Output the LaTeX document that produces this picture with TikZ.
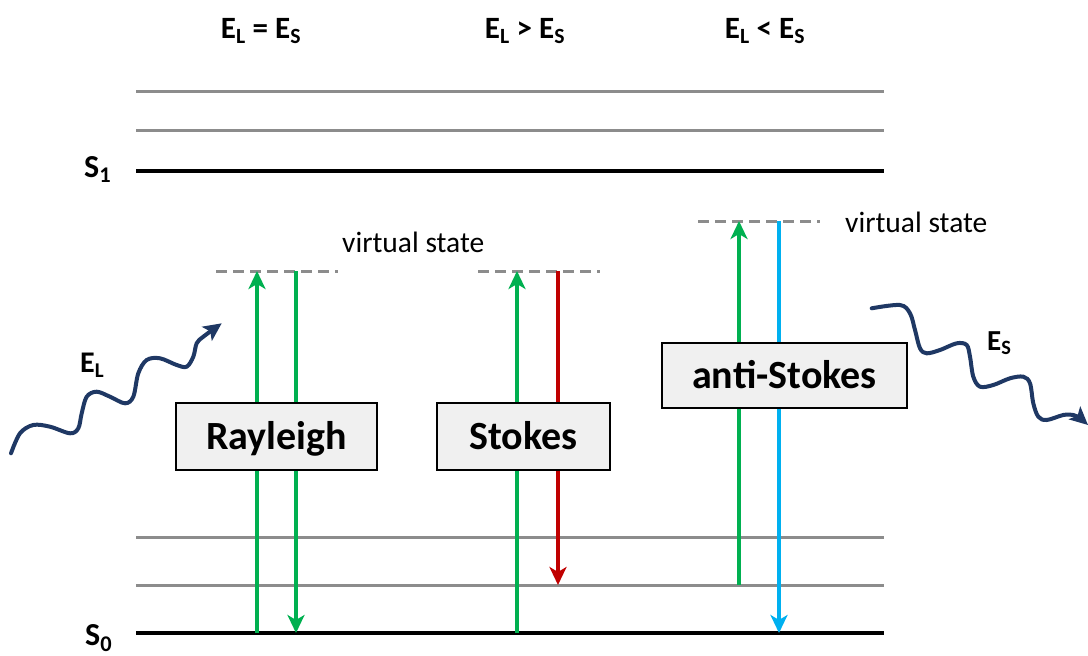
\documentclass[tikz,border=0pt]{standalone}
\usepackage{fontspec}
\setmainfont{Carlito}
\usetikzlibrary{arrows.meta}
\definecolor{lvlgray}{HTML}{8C8C8C}
\definecolor{agreen}{HTML}{00B050}
\definecolor{ared}{HTML}{C00000}
\definecolor{ablue}{HTML}{00B0F0}
\definecolor{navy}{HTML}{1F3864}
\definecolor{boxfill}{HTML}{F0F0F0}
\tikzset{
  level/.style={lvlgray, line width=3pt},
  ground/.style={black, line width=4.5pt},
  virt/.style={lvlgray, line width=3pt, dash pattern=on 11pt off 6pt},
  trans/.style={line width=4pt, -{Stealth[length=18pt,width=17pt,inset=5pt]}},
  procbox/.style={draw=black, line width=2pt, fill=boxfill, inner sep=0pt,
    text height=25pt, text depth=0pt,
    font=\fontsize{40}{42}\selectfont\bfseries},
  hdr/.style={font=\fontsize{31}{33}\selectfont\bfseries, anchor=base, inner sep=0pt},
  vlab/.style={font=\fontsize{29.5}{32}\selectfont, anchor=base, inner sep=0pt},
  photon/.style={navy, line width=4pt, line cap=round,
    -{Stealth[length=18pt,width=17pt,inset=4pt]}},
}
\begin{document}
\begin{tikzpicture}[x=1pt,y=-1pt]
\useasboundingbox (0,0) rectangle (1088,656);
% levels
\draw[level] (136,91) -- (884,91);
\draw[level] (136,130) -- (884,130);
\draw[ground] (136,171) -- (884,171);
\draw[level] (136,537) -- (884,537);
\draw[level] (136,585) -- (884,585);
\draw[ground] (136,633) -- (884,633);
% level labels
\node[hdr, anchor=base west, font=\fontsize{32}{33}\selectfont\bfseries] (s1) at (84,177) {S\textsubscript{1}};
\node[hdr, anchor=base west, font=\fontsize{32}{33}\selectfont\bfseries] (s0) at (85,645) {S\textsubscript{0}};
% headers
\node[hdr] (h1) at (261,38) {E\textsubscript{L} = E\textsubscript{S}};
\node[hdr] (h2) at (525,38) {E\textsubscript{L} > E\textsubscript{S}};
\node[hdr] (h3) at (765,38) {E\textsubscript{L} < E\textsubscript{S}};
% virtual states
\draw[virt] (216,271) -- (338,271);
\draw[virt] (478,271) -- (600,271);
\draw[virt] (698,221) -- (820,221);
\node[vlab, anchor=base west] (v1) at (342,252) {virtual state};
\node[vlab, anchor=base west] (v2) at (845,232) {virtual state};
% transition end points
\coordinate (r1b) at (257,633); \coordinate (r1t) at (257,271);
\coordinate (r2t) at (296,271); \coordinate (r2b) at (296,633);
\coordinate (s1b) at (517,633); \coordinate (s1t) at (517,271);
\coordinate (s2t) at (558,271); \coordinate (s2b) at (558,585);
\coordinate (a1b) at (739,585); \coordinate (a1t) at (739,221);
\coordinate (a2t) at (779,221); \coordinate (a2b) at (779,633);
\draw[trans, agreen] (r1b) -- (r1t);
\draw[trans, agreen] (r2t) -- (r2b);
\draw[trans, agreen] (s1b) -- (s1t);
\draw[trans, ared] (s2t) -- (s2b);
\draw[trans, agreen] (a1b) -- (a1t);
\draw[trans, ablue] (a2t) -- (a2b);
% boxes
\node[procbox, minimum width=201pt, minimum height=67pt] (ray) at (276.5,436.5) {Rayleigh};
\node[procbox, minimum width=173pt, minimum height=67pt] (sto) at (523.5,436.5) {Stokes};
\node[procbox, minimum width=245pt, minimum height=65pt] (ast) at (784.5,375.5) {anti-Stokes};
% photons (free-form waves)
\draw[photon] plot[smooth, tension=0.55] coordinates {
  (11,453.3) (20,433.3) (33.3,425) (50,426.7) (70,433.3) (78.3,428.3)
  (81.7,413.3) (86.7,396.7) (96.7,391.7) (110,396.7) (125,403.3) (133.3,396.7)
  (138.3,373.3) (146.7,360) (160,358.3) (176.7,365) (186.7,366.7) (193.3,356.7)
  (196.7,343.3) (203.3,336.7) (221.7,323.3)};
\draw[photon] plot[smooth, tension=0.55] coordinates {
  (871.7,308.3) (900,305) (910,313.3) (915,330) (920,348.3) (926.7,353.3)
  (940,350) (956.7,343.3) (966.7,345) (970,356.7) (973.3,376.7) (980,386.7)
  (993.3,385) (1010,378.3) (1023.3,376.7) (1030,383.3) (1033.3,403.3)
  (1038.3,416.7) (1046.7,420) (1063.3,415) (1073.3,415) (1080,418.3) (1088,425)};
\node[hdr, anchor=base west, font=\fontsize{30}{32}\selectfont\bfseries] (el) at (80,372) {E\textsubscript{L}};
\node[hdr, anchor=base west, font=\fontsize{29}{32}\selectfont\bfseries] (es) at (987,350) {E\textsubscript{S}};
\end{tikzpicture}
\end{document}
